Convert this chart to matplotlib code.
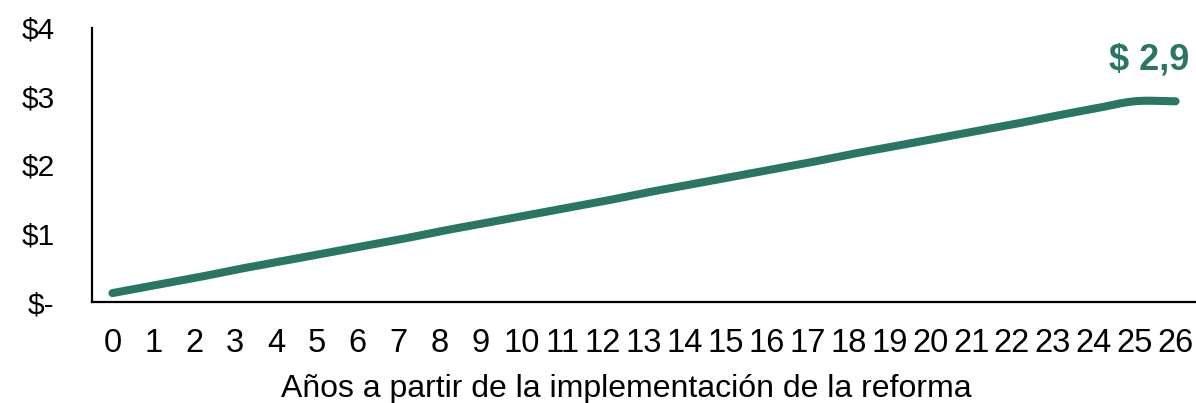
import numpy as np
import matplotlib
matplotlib.use("Agg")
import matplotlib.pyplot as plt

plt.rcParams['font.family'] = ['Liberation Sans', 'DejaVu Sans']

# Data: cumulative value (in $) by year since the reform was implemented
years = list(range(0, 27))
values = [0.13, 0.24, 0.35, 0.47, 0.58, 0.69, 0.80, 0.91, 1.03, 1.14,
          1.25, 1.36, 1.47, 1.59, 1.70, 1.81, 1.92, 2.03, 2.15, 2.26,
          2.37, 2.48, 2.59, 2.71, 2.82, 2.93, 2.93]
y_ticks = [0, 1, 2, 3, 4]
y_tick_labels = ["$-", "$1", "$2", "$3", "$4"]
end_label = "$ 2,9"
x_label = "Años a partir de la implementación de la reforma"

GREEN = "#2a7664"


def smooth_curve(x, y, steps=20):
    """Catmull-Rom spline through the points (smoothed line look)."""
    x = np.asarray(x, float)
    y = np.asarray(y, float)
    px = np.concatenate([[2 * x[0] - x[1]], x, [2 * x[-1] - x[-2]]])
    py = np.concatenate([[2 * y[0] - y[1]], y, [2 * y[-1] - y[-2]]])
    xs, ys = [], []
    t = np.linspace(0, 1, steps, endpoint=False)
    for i in range(1, len(px) - 2):
        for arr, out in ((px, xs), (py, ys)):
            p0, p1, p2, p3 = arr[i - 1], arr[i], arr[i + 1], arr[i + 2]
            out.extend(0.5 * ((2 * p1) + (-p0 + p2) * t
                              + (2 * p0 - 5 * p1 + 4 * p2 - p3) * t ** 2
                              + (-p0 + 3 * p1 - 3 * p2 + p3) * t ** 3))
    xs.append(x[-1])
    ys.append(y[-1])
    return np.array(xs), np.array(ys)


fig = plt.figure(figsize=(11.96, 4.03), dpi=100)
ax = fig.add_axes([0.0769, 0.2506, 0.9231, 0.68])

sx, sy = smooth_curve(years, values)
ax.plot(sx, sy, color=GREEN, lw=5.8, solid_capstyle="round")

ax.text(years[-1] + 0.35, values[-1] + 0.35, end_label, color=GREEN,
        fontsize=26, fontweight="bold", ha="right", va="bottom")

ax.set_xlim(-0.5, 26.5)
ax.set_ylim(0, 4)
ax.set_xticks(years)
ax.set_xticklabels([str(y) for y in years])
ax.set_yticks(y_ticks)
ax.set_yticklabels(y_tick_labels)
ax.tick_params(axis="both", length=0)
ax.tick_params(axis="y", labelsize=21.5, pad=27)
ax.tick_params(axis="x", labelsize=23.5, pad=19)

ax.set_xlabel(x_label, fontsize=23)
ax.xaxis.set_label_coords(0.484, -0.262)

for side in ("top", "right"):
    ax.spines[side].set_visible(False)
for side in ("left", "bottom"):
    ax.spines[side].set_linewidth(1.6)
    ax.spines[side].set_color("black")

fig.savefig("out.png", dpi=100)
